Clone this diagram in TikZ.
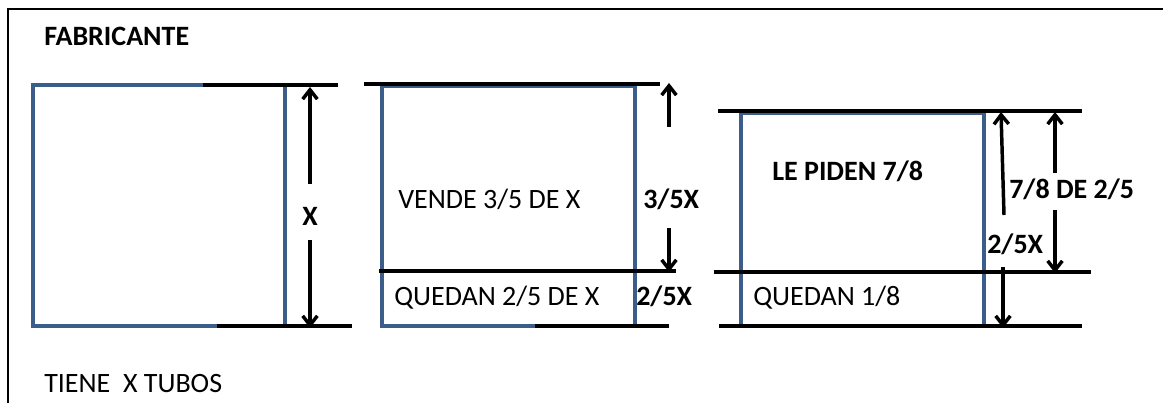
\documentclass[tikz,border=0pt]{standalone}
\usepackage{fontspec}
\setmainfont{Carlito}
\usetikzlibrary{arrows.meta}
\definecolor{boxblue}{HTML}{3B5D8A}
\tikzset{
  frameline/.style={line width=1.7pt, black},
  boxline/.style={line width=2.6pt, boxblue},
  levelline/.style={line width=2.5pt, black},
  dimarrow/.style={line width=2.6pt, black, -{Straight Barb[length=7pt,width=11pt]}},
  lbl/.style={inner sep=0pt, anchor=base west, font=\fontsize{21}{25}\selectfont},
  blbl/.style={lbl, font=\fontsize{21}{25}\selectfont\bfseries}
}
\begin{document}
\begin{tikzpicture}[x=0.75pt,y=-0.75pt]
\useasboundingbox (0,0) rectangle (1163,403);

% outer frame (open to the right and bottom)
\draw[frameline] (8,403) -- (8,9) -- (1163,9);

% titles
\node[blbl] (fab) at (44,46) {FABRICANTE};
\node[lbl] (tiene) at (44,392) {TIENE\ \ X TUBOS};

% first block: the whole stock
\draw[boxline] (33,85) rectangle (285,326);
\draw[levelline] (203,85) -- (338,85);
\draw[levelline] (217,326) -- (352,326);
\node[blbl] (lx) at (302,225) {X};
\coordinate (xa1) at (310,184);
\coordinate (xa2) at (310,87);
\coordinate (xb1) at (310,240);
\coordinate (xb2) at (310,328);
\draw[dimarrow] (xa1) -- (xa2);
\draw[dimarrow] (xb1) -- (xb2);

% second block: sold part and remainder
\draw[boxline] (382,86) rectangle (635,326);
\draw[levelline] (364,84) -- (660,84);
\draw[levelline] (379,271) -- (676,271);
\draw[levelline] (535,326) -- (669,326);
\node[lbl] (vende) at (398,208) {VENDE 3/5 DE X};
\node[lbl] (quedan1) at (394,305) {QUEDAN 2/5 DE X};
\node[blbl] (tres) at (643,208) {3/5X};
\node[blbl] (dos) at (636,305) {2/5X};
\coordinate (ta1) at (669,127);
\coordinate (ta2) at (669,83);
\coordinate (tb1) at (669,228);
\coordinate (tb2) at (669,272);
\draw[dimarrow] (ta1) -- (ta2);
\draw[dimarrow] (tb1) -- (tb2);

% third block: the remaining 2/5
\draw[boxline] (741,113) rectangle (984,326);
\draw[levelline] (718,111) -- (1082,111);
\draw[levelline] (714,272) -- (1091,272);
\draw[levelline] (719,326) -- (1082,326);
\node[blbl] (piden) at (772,180) {LE PIDEN 7/8};
\node[lbl] (quedan2) at (753,305) {QUEDAN 1/8};
\node[blbl] (dosr) at (987,253) {2/5X};
\node[blbl] (siete) at (1009,198) {7/8 DE 2/5};
\coordinate (da1) at (1004,215);
\coordinate (da2) at (1001,112);
\coordinate (db1) at (1003,267);
\coordinate (db2) at (1003,328);
\draw[dimarrow] (da1) -- (da2);
\draw[dimarrow] (db1) -- (db2);
\coordinate (sa1) at (1055,173);
\coordinate (sa2) at (1055,112);
\coordinate (sb1) at (1055,210);
\coordinate (sb2) at (1055,273);
\draw[dimarrow] (sa1) -- (sa2);
\draw[dimarrow] (sb1) -- (sb2);
\end{tikzpicture}
\end{document}
